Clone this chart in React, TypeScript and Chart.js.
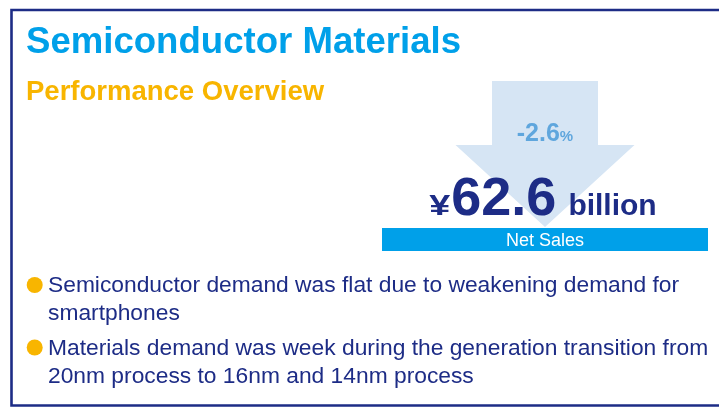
import { useEffect, useRef } from 'react';
import { Chart, registerables } from 'chart.js';

Chart.register(...registerables);

// ---- data ----
const TITLE = 'Semiconductor Materials';
const SUBTITLE = 'Performance Overview';
const CATEGORIES = ['Net Sales'];
const NET_SALES = [62.6];
const CHANGE_PCT = [-2.6];
const CURRENCY = '¥';
const UNIT = 'billion';
const BULLET_LINES = [
  ['Semiconductor demand was flat due to weakening demand for', 'smartphones'],
  ['Materials demand was week during the generation transition from', '20nm process to 16nm and 14nm process'],
];

// ---- styles ----
const FONT = '"Liberation Sans", Arial, Helvetica, sans-serif';
const NAVY = '#1d2c86';
const CYAN = '#00a0e9';
const YELLOW = '#f8b500';
const ARROW = '#d6e5f4';
const CHANGE_COLOR = '#5fa6dd';

const overlay = {
  id: 'overlay',
  beforeDatasetsDraw(chart: any) {
    const ctx = chart.ctx as CanvasRenderingContext2D;
    const bar: any = chart.getDatasetMeta(0).data[0];
    const cx = (bar.x + bar.base) / 2;
    const barTop = bar.y - bar.height / 2;
    ctx.save();
    // frame
    ctx.strokeStyle = NAVY;
    ctx.lineWidth = 2.6;
    ctx.beginPath();
    ctx.moveTo(chart.width + 5, 10);
    ctx.lineTo(11.5, 10);
    ctx.lineTo(11.5, 405.5);
    ctx.lineTo(chart.width + 5, 405.5);
    ctx.stroke();
    // arrow
    ctx.fillStyle = ARROW;
    ctx.beginPath();
    ctx.moveTo(cx - 53, 81);
    ctx.lineTo(cx + 53, 81);
    ctx.lineTo(cx + 53, 145);
    ctx.lineTo(cx + 89.5, 145);
    ctx.lineTo(cx, barTop - 1);
    ctx.lineTo(cx - 89.5, 145);
    ctx.lineTo(cx - 53, 145);
    ctx.closePath();
    ctx.fill();
    ctx.restore();
  },
  afterDraw(chart: any) {
    const ctx = chart.ctx as CanvasRenderingContext2D;
    const bar: any = chart.getDatasetMeta(0).data[0];
    const cx = (bar.x + bar.base) / 2;
    ctx.save();
    ctx.textBaseline = 'alphabetic';
    ctx.textAlign = 'left';

    // headings
    ctx.fillStyle = CYAN;
    ctx.font = `bold 36.6px ${FONT}`;
    ctx.fillText(TITLE, 26, 53);
    ctx.fillStyle = YELLOW;
    ctx.font = `bold 27.5px ${FONT}`;
    ctx.fillText(SUBTITLE, 26, 100);

    // change %
    const chg = CHANGE_PCT[0].toFixed(1);
    ctx.fillStyle = CHANGE_COLOR;
    ctx.font = `bold 25px ${FONT}`;
    const w1 = ctx.measureText(chg).width;
    ctx.font = `bold 15px ${FONT}`;
    const w2 = ctx.measureText('%').width;
    let x = cx - (w1 + w2) / 2;
    ctx.font = `bold 25px ${FONT}`;
    ctx.fillText(chg, x, 141);
    ctx.font = `bold 15px ${FONT}`;
    ctx.fillText('%', x + w1, 141);

    // net sales value
    const val = NET_SALES[0].toFixed(1);
    ctx.fillStyle = NAVY;
    ctx.font = `bold 29px ${FONT}`;
    const wy = ctx.measureText(CURRENCY).width * 1.3;
    ctx.font = `bold 54px ${FONT}`;
    const wv = ctx.measureText(val).width;
    ctx.font = `bold 30px ${FONT}`;
    const wu = ctx.measureText(UNIT).width;
    const g1 = 1, g2 = 12;
    x = cx - 2 - (wy + g1 + wv + g2 + wu) / 2;
    ctx.save();
    ctx.translate(x, 215);
    ctx.scale(1.3, 1);
    ctx.font = `bold 29px ${FONT}`;
    ctx.fillText(CURRENCY, 0, 0);
    ctx.restore();
    x += wy + g1;
    ctx.font = `bold 54px ${FONT}`;
    ctx.fillText(val, x, 215);
    x += wv + g2;
    ctx.font = `bold 30px ${FONT}`;
    ctx.fillText(UNIT, x, 215);

    // bar label
    ctx.fillStyle = '#ffffff';
    ctx.font = `18px ${FONT}`;
    ctx.textAlign = 'center';
    ctx.fillText(CATEGORIES[0], cx, bar.y + 6.5);

    // bullets
    ctx.textAlign = 'left';
    const starts = [292, 354.5];
    BULLET_LINES.forEach((lines, i) => {
      const y0 = starts[i];
      ctx.fillStyle = YELLOW;
      ctx.beginPath();
      ctx.arc(34.7, y0 - 7, 8, 0, Math.PI * 2);
      ctx.fill();
      ctx.fillStyle = NAVY;
      ctx.font = `22.8px ${FONT}`;
      lines.forEach((t, j) => ctx.fillText(t, 48, y0 + j * 28));
    });
    ctx.restore();
  },
};

export default function App() {
  const ref = useRef<HTMLCanvasElement>(null);
  useEffect(() => {
    if (!ref.current) return;
    const chart = new Chart(ref.current, {
      type: 'bar',
      data: {
        labels: CATEGORIES,
        datasets: [
          {
            data: NET_SALES,
            backgroundColor: CYAN,
            borderWidth: 0,
            barPercentage: 1,
            categoryPercentage: 1,
          },
        ],
      },
      options: {
        indexAxis: 'y',
        animation: false,
        responsive: false,
        maintainAspectRatio: false,
        layout: { padding: { left: 382, right: 11, top: 228, bottom: 158 } },
        scales: {
          x: { display: false, min: 0, max: NET_SALES[0] },
          y: { display: false },
        },
        plugins: {
          legend: { display: false },
          tooltip: { enabled: false },
          title: { display: false },
        },
      },
      plugins: [overlay],
    });
    return () => chart.destroy();
  }, []);
  return (
    <div style={{ position: 'fixed', left: 0, top: 0, width: 719, height: 409, background: '#fff' }}>
      <canvas ref={ref} width={719} height={409} style={{ display: 'block' }} />
    </div>
  );
}
